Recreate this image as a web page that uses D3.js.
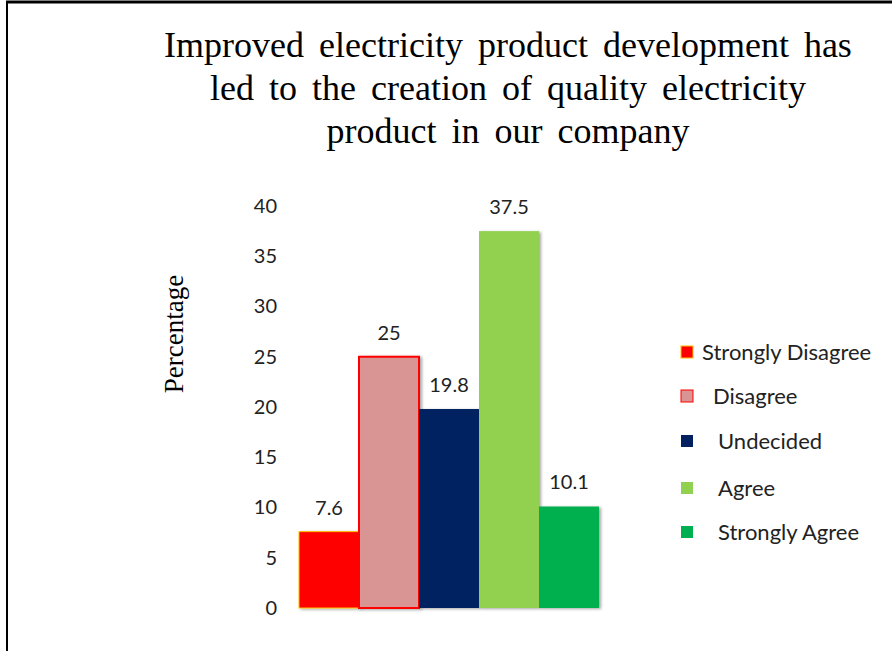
<!DOCTYPE html>
<html>
<head>
<meta charset="utf-8">
<script src="https://cdn.jsdelivr.net/npm/d3@7"></script>
<style>
  body { margin: 0; background: #fff; }
  svg { display: block; }
</style>
</head>
<body>
<div id="chart"></div>
<script>
// data
const categories = ["Strongly Disagree", "Disagree", "Undecided", "Agree", "Strongly Agree"];
const values = [7.6, 25, 19.8, 37.5, 10.1];
const yTicks = [0, 5, 10, 15, 20, 25, 30, 35, 40];
const titleLines = [
  "Improved electricity product development has",
  "led to the creation of quality electricity",
  "product in our company"
];

const fills = ["#ff0000", "#d99594", "#002060", "#92d050", "#00b050"];
const strokes = ["#ffc000", "#ff0000", "none", "none", "none"];
// legend text nudges (the original has uneven spacing)
const legendPad = [9, 20, 25, 25, 25];

const W = 892, H = 651;
const svg = d3.select("#chart").append("svg")
  .attr("width", W).attr("height", H);

// frame
svg.append("line").attr("x1", 6).attr("x2", W).attr("y1", 2).attr("y2", 2)
  .attr("stroke", "#000").attr("stroke-width", 3);
svg.append("line").attr("x1", 7).attr("x2", 7).attr("y1", 1).attr("y2", H)
  .attr("stroke", "#000").attr("stroke-width", 2);

const defs = svg.append("defs");
const f = defs.append("filter").attr("id", "shadow")
  .attr("x", "-10%").attr("y", "-10%").attr("width", "130%").attr("height", "120%");
f.append("feDropShadow").attr("dx", 2).attr("dy", 1).attr("stdDeviation", 1.5)
  .attr("flood-color", "#000").attr("flood-opacity", 0.35);

// title
svg.append("g").selectAll("text")
  .data(titleLines).join("text")
  .attr("x", 508)
  .attr("y", (d, i) => 57 + i * 43)
  .attr("text-anchor", "middle")
  .style("font-family", "'Liberation Serif', 'Times New Roman', serif")
  .style("font-size", "36px")
  .style("word-spacing", "6px")
  .text(d => d);

const x = d3.scaleBand().domain(categories).range([299, 599]).padding(0);
const y = d3.scaleLinear().domain([0, 40]).range([608, 206]);

// y axis labels only
const yaxis = svg.append("g")
  .attr("transform", "translate(286,0)")
  .call(d3.axisLeft(y).tickValues(yTicks).tickSize(0).tickPadding(9));
yaxis.select(".domain").remove();
yaxis.selectAll("text")
  .style("font-family", "Lato, 'Open Sans', sans-serif")
  .style("font-size", "20px")
  .style("fill", "#222");

svg.append("text")
  .attr("transform", "translate(183," + 334 + ")rotate(-90)")
  .attr("text-anchor", "middle")
  .style("font-family", "'Liberation Serif', 'Times New Roman', serif")
  .style("font-size", "27px")
  .text("Percentage");

// bars
svg.append("g").selectAll("rect")
  .data(values).join("rect")
  .attr("x", (d, i) => x(categories[i]))
  .attr("y", d => y(d))
  .attr("width", x.bandwidth())
  .attr("height", d => y(0) - y(d))
  .attr("fill", (d, i) => fills[i])
  .attr("stroke", (d, i) => strokes[i])
  .attr("stroke-width", (d, i) => i === 1 ? 2 : 1)
  .attr("filter", "url(#shadow)");

// value labels
svg.append("g").selectAll("text")
  .data(values).join("text")
  .attr("x", (d, i) => x(categories[i]) + x.bandwidth() / 2)
  .attr("y", d => y(d) - 17)
  .attr("text-anchor", "middle")
  .style("font-family", "Lato, 'Open Sans', sans-serif")
  .style("font-size", "20px")
  .style("fill", "#222")
  .text(d => d);

// legend
const legendY = [352, 396, 441, 488, 532];
const legend = svg.append("g").selectAll("g")
  .data(categories).join("g")
  .attr("transform", (d, i) => "translate(681," + legendY[i] + ")");
legend.append("rect")
  .attr("x", 0).attr("y", -6).attr("width", 12).attr("height", 12)
  .attr("fill", (d, i) => fills[i])
  .attr("stroke", (d, i) => strokes[i])
  .attr("stroke-width", 1);
legend.append("text")
  .attr("x", (d, i) => 12 + legendPad[i])
  .attr("y", 8)
  .style("font-family", "Lato, 'Open Sans', sans-serif")
  .style("font-size", "22px")
  .style("fill", "#222")
  .text(d => d);
</script>
</body>
</html>
